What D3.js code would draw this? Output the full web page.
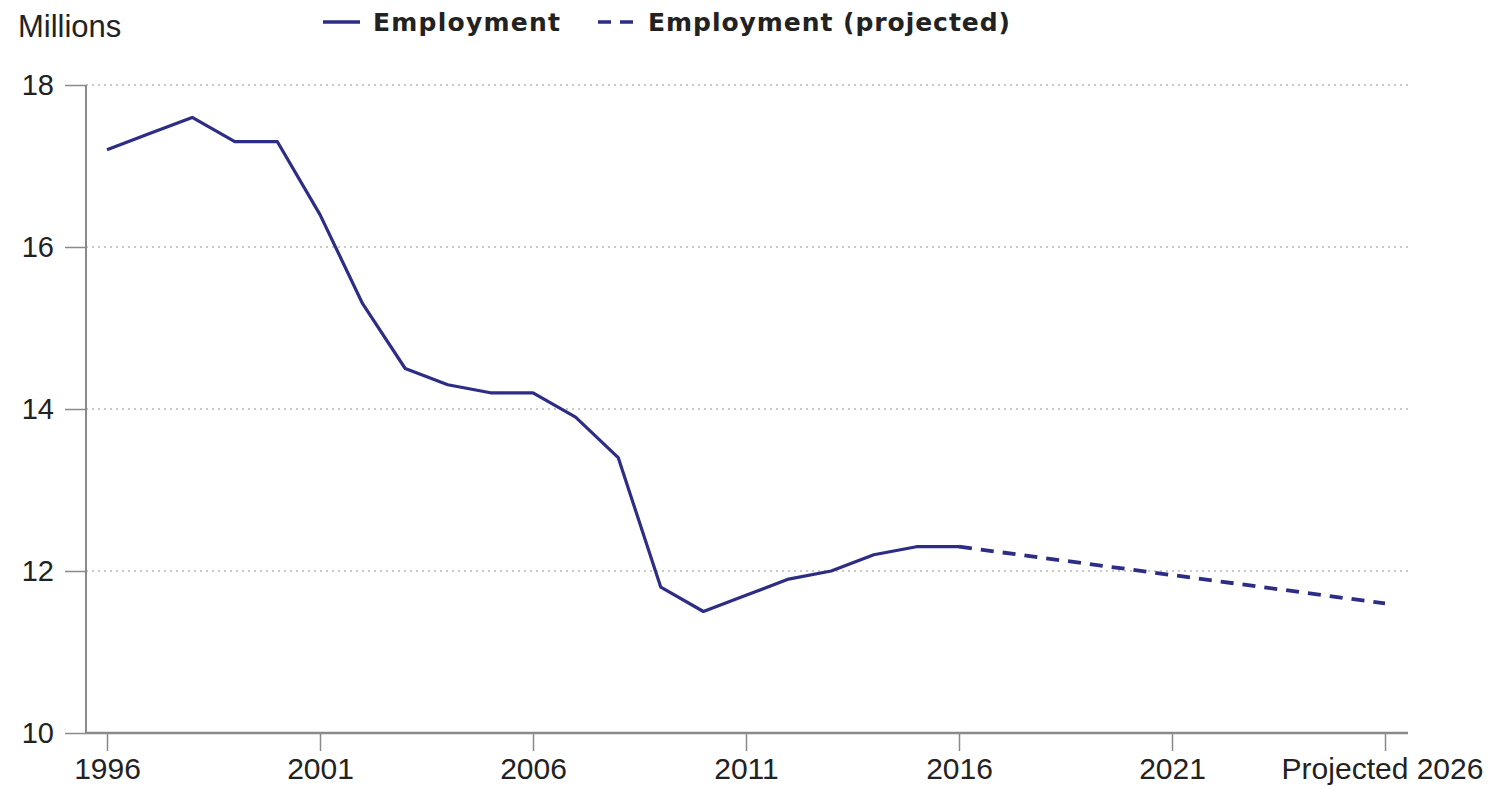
<!DOCTYPE html>
<html><head><meta charset="utf-8">
<script src="https://cdn.jsdelivr.net/npm/d3@7"></script>
<style>body{margin:0;background:#fff}svg{display:block}</style>
</head><body>
<svg id="c" width="1496" height="786"></svg>
<script>
const years = [1996,1997,1998,1999,2000,2001,2002,2003,2004,2005,2006,2007,2008,2009,2010,2011,2012,2013,2014,2015,2016];
const employment = [17.2,17.4,17.6,17.3,17.3,16.4,15.3,14.5,14.3,14.2,14.2,13.9,13.4,11.8,11.5,11.7,11.9,12.0,12.2,12.3,12.3];
const projYears = [2016,2026];
const projected = [12.3,11.6];
const xTicks = [1996,2001,2006,2011,2016,2021,2026];
const xTickLabels = ["1996","2001","2006","2011","2016","2021","Projected 2026"];
const yTicks = [10,12,14,16,18];
const seriesNames = ["Employment","Employment (projected)"];

const svg = d3.select("#c");
const x = d3.scaleLinear().domain([1996,2026]).range([107,1385]);
const y = d3.scaleLinear().domain([10,18]).range([733,85]);
const axisCol = "#8a8a8a", lineCol = "#2d2d85", txt = "#222";
const font = "'Liberation Sans', Arial, sans-serif";

// gridlines
svg.append("g").selectAll("line").data(yTicks.filter(d=>d>10)).join("line")
  .attr("x1",86).attr("x2",1408).attr("y1",d=>y(d)).attr("y2",d=>y(d))
  .attr("stroke","#b8b8b8").attr("stroke-width",1.5).attr("stroke-dasharray","2,4");

// y axis
const ya = svg.append("g").attr("transform","translate(86,0)")
  .call(d3.axisLeft(y).tickValues(yTicks).tickSize(21).tickPadding(11).tickFormat(d3.format("d")));
ya.select(".domain").attr("stroke",axisCol).attr("stroke-width",2).attr("d","M0,85V733");
ya.selectAll(".tick line").attr("stroke",axisCol).attr("stroke-width",1.5);
ya.selectAll(".tick text").attr("fill",txt).style("font-family",font).style("font-size","29px");

// x axis
const xa = svg.append("g").attr("transform","translate(0,733)")
  .call(d3.axisBottom(x).tickValues(xTicks).tickSize(18).tickPadding(7)
    .tickFormat((d,i)=>xTickLabels[i]));
xa.select(".domain").attr("stroke",axisCol).attr("stroke-width",2.5).attr("d","M86,0H1408");
xa.selectAll(".tick line").attr("stroke",axisCol).attr("stroke-width",1.5);
xa.selectAll(".tick text").attr("fill",txt).style("font-family",font).style("font-size","30px");
xa.selectAll(".tick text").filter((d,i)=>i===xTicks.length-1).attr("text-anchor","middle").attr("dx",-3);

// lines
const line = d3.line().x(d=>x(d[0])).y(d=>y(d[1]));
svg.append("path").datum(years.map((yr,i)=>[yr,employment[i]]))
  .attr("d",line).attr("fill","none").attr("stroke",lineCol).attr("stroke-width",3.2).attr("stroke-linejoin","round");
svg.append("path").datum(projYears.map((yr,i)=>[yr,projected[i]]))
  .attr("d",line).attr("fill","none").attr("stroke",lineCol).attr("stroke-width",3.8)
  .attr("stroke-dasharray","13,9");

// title label
svg.append("text").attr("x",18).attr("y",37).text("Millions")
  .attr("fill",txt).style("font-family",font).style("font-size","31px");

// legend
const lg = svg.append("g");
const lfont = "'DejaVu Sans', Verdana, sans-serif";
lg.append("line").attr("x1",323).attr("x2",360).attr("y1",22).attr("y2",22).attr("stroke",lineCol).attr("stroke-width",3.5);
lg.append("text").attr("x",373).attr("y",31).text(seriesNames[0]).attr("textLength",187).attr("lengthAdjust","spacing")
  .attr("fill",txt).style("font-family",lfont).style("font-weight","bold").style("font-size","25px");
lg.append("line").attr("x1",598).attr("x2",636).attr("y1",22).attr("y2",22).attr("stroke",lineCol).attr("stroke-width",3.5).attr("stroke-dasharray","13,9");
lg.append("text").attr("x",648).attr("y",31).text(seriesNames[1]).attr("textLength",362).attr("lengthAdjust","spacing")
  .attr("fill",txt).style("font-family",lfont).style("font-weight","bold").style("font-size","25px");
</script>
</body></html>
